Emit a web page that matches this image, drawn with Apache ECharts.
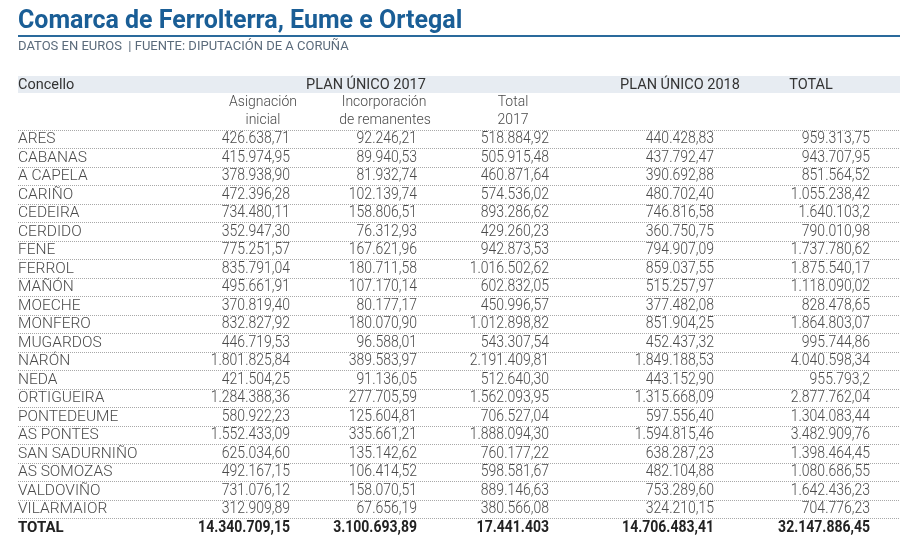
<!DOCTYPE html>
<html>
<head>
<meta charset="utf-8">
<title>Comarca de Ferrolterra, Eume e Ortegal</title>
<script src="https://cdn.jsdelivr.net/npm/echarts@6/dist/echarts.min.js"></script>
<style>
  html, body { margin: 0; padding: 0; background: #fff; }
  #plan-unico { width: 900px; height: 537px; }
</style>
</head>
<body>
<div id="plan-unico"></div>
<script>
// datos (texto tal como aparece na táboa)
var concellos = ['ARES', 'CABANAS', 'A CAPELA', 'CARIÑO', 'CEDEIRA', 'CERDIDO', 'FENE', 'FERROL',
  'MAÑÓN', 'MOECHE', 'MONFERO', 'MUGARDOS', 'NARÓN', 'NEDA', 'ORTIGUEIRA', 'PONTEDEUME',
  'AS PONTES', 'SAN SADURNIÑO', 'AS SOMOZAS', 'VALDOVIÑO', 'VILARMAIOR'];

var asignacion = ['426.638,71', '415.974,95', '378.938,90', '472.396,28', '734.480,11', '352.947,30',
  '775.251,57', '835.791,04', '495.661,91', '370.819,40', '832.827,92', '446.719,53', '1.801.825,84',
  '421.504,25', '1.284.388,36', '580.922,23', '1.552.433,09', '625.034,60', '492.167,15', '731.076,12',
  '312.909,89'];

var remanentes = ['92.246,21', '89.940,53', '81.932,74', '102.139,74', '158.806,51', '76.312,93',
  '167.621,96', '180.711,58', '107.170,14', '80.177,17', '180.070,90', '96.588,01', '389.583,97',
  '91.136,05', '277.705,59', '125.604,81', '335.661,21', '135.142,62', '106.414,52', '158.070,51',
  '67.656,19'];

var total2017 = ['518.884,92', '505.915,48', '460.871,64', '574.536,02', '893.286,62', '429.260,23',
  '942.873,53', '1.016.502,62', '602.832,05', '450.996,57', '1.012.898,82', '543.307,54', '2.191.409,81',
  '512.640,30', '1.562.093,95', '706.527,04', '1.888.094,30', '760.177,22', '598.581,67', '889.146,63',
  '380.566,08'];

var plan2018 = ['440.428,83', '437.792,47', '390.692,88', '480.702,40', '746.816,58', '360.750,75',
  '794.907,09', '859.037,55', '515.257,97', '377.482,08', '851.904,25', '452.437,32', '1.849.188,53',
  '443.152,90', '1.315.668,09', '597.556,40', '1.594.815,46', '638.287,23', '482.104,88', '753.289,60',
  '324.210,15'];

var totalGeral = ['959.313,75', '943.707,95', '851.564,52', '1.055.238,42', '1.640.103,2', '790.010,98',
  '1.737.780,62', '1.875.540,17', '1.118.090,02', '828.478,65', '1.864.803,07', '995.744,86', '4.040.598,34',
  '955.793,2', '2.877.762,04', '1.304.083,44', '3.482.909,76', '1.398.464,45', '1.080.686,55', '1.642.436,23',
  '704.776,23'];

var totais = ['14.340.709,15', '3.100.693,89', '17.441.403', '14.706.483,41', '32.147.886,45'];

// bordo dereito de cada columna (eixo x = píxeles)
var colRight = [290, 417, 549, 714, 870];

var columnas = [asignacion, remanentes, total2017, plan2018, totalGeral];
var filas = concellos.concat(['TOTAL']);

var cells = [];
var cellText = [];
for (var c = 0; c < columnas.length; c++) {
  for (var r = 0; r < filas.length; r++) {
    var isTotal = r === concellos.length;
    cells.push([colRight[c], r]);
    cellText.push({ text: isTotal ? totais[c] : columnas[c][r], bold: isTotal });
  }
}

var font = 'Roboto, "Noto Sans", sans-serif';
var grey = '#4a4a4a';

var chart = echarts.init(document.getElementById('plan-unico'));

var option = {
  backgroundColor: '#fff',
  animation: false,
  title: {
    text: 'Comarca de Ferrolterra, Eume e Ortegal',
    left: 13,
    top: 4,
    textStyle: { fontFamily: font, fontSize: 25, fontWeight: 'bold', color: '#1a5e96' }
  },
  grid: { left: 18, right: 0, top: 130, height: 408.1 },
  xAxis: {
    type: 'value', min: 18, max: 900,
    show: false
  },
  yAxis: {
    type: 'category',
    data: filas,
    inverse: true,
    axisLine: { show: false },
    axisTick: { show: false },
    axisLabel: {
      inside: true,
      margin: 0,
      interval: 0,
      fontFamily: font,
      fontSize: 15.5,
      fontWeight: 300,
      color: grey,
      formatter: function (v) { return v === 'TOTAL' ? '{b|TOTAL}' : v; },
      rich: { b: { fontFamily: font, fontSize: 15, fontWeight: 'bold', color: '#222' } }
    },
    splitLine: { show: true, interval: 0, lineStyle: { color: '#a8a8a8', type: [1, 1], width: 1 } }
  },
  series: [{
    type: 'custom',
    data: cells,
    renderItem: function (params, api) {
      var p = api.coord([api.value(0), api.value(1)]);
      var t = cellText[params.dataIndex];
      return {
        type: 'text',
        x: p[0], y: p[1],
        scaleX: 0.875,
        style: {
          text: t.text,
          align: 'right',
          verticalAlign: 'middle',
          fontFamily: font,
          fontSize: 16,
          fontWeight: t.bold ? 'bold' : 300,
          fill: t.bold ? '#222' : grey
        }
      };
    }
  }],
  graphic: [
    { type: 'rect', shape: { x: 18, y: 35, width: 882, height: 2 }, style: { fill: '#2a6a9c' } },
    { type: 'text', left: 18, top: 40, style: { text: 'DATOS EN EUROS  | FUENTE: DIPUTACIÓN DE A CORUÑA',
        fontFamily: font, fontSize: 13, fill: '#5b6b7b' } },
    { type: 'rect', z: -1, shape: { x: 18, y: 76, width: 882, height: 17 }, style: { fill: '#e7ecf2' } },
    { type: 'text', x: 18, y: 85, style: { text: 'Concello', verticalAlign: 'middle', fontFamily: font, fontSize: 14.5, fill: '#333' } },
    { type: 'text', x: 366, y: 85, style: { text: 'PLAN ÚNICO 2017', align: 'center', verticalAlign: 'middle', fontFamily: font, fontSize: 14.5, fill: '#333' } },
    { type: 'text', x: 680, y: 85, style: { text: 'PLAN ÚNICO 2018', align: 'center', verticalAlign: 'middle', fontFamily: font, fontSize: 14.5, fill: '#333' } },
    { type: 'text', x: 811, y: 85, style: { text: 'TOTAL', align: 'center', verticalAlign: 'middle', fontFamily: font, fontSize: 14.5, fill: '#333' } },
    { type: 'text', x: 263, y: 102, style: { text: 'Asignación', align: 'center', verticalAlign: 'middle', fontFamily: font, fontSize: 14, fontWeight: 300, fill: grey } },
    { type: 'text', x: 263, y: 120, style: { text: 'inicial', align: 'center', verticalAlign: 'middle', fontFamily: font, fontSize: 14, fontWeight: 300, fill: grey } },
    { type: 'text', x: 384, y: 102, style: { text: 'Incorporación', align: 'center', verticalAlign: 'middle', fontFamily: font, fontSize: 14, fontWeight: 300, fill: grey } },
    { type: 'text', x: 385, y: 120, style: { text: 'de remanentes', align: 'center', verticalAlign: 'middle', fontFamily: font, fontSize: 14, fontWeight: 300, fill: grey } },
    { type: 'text', x: 513, y: 102, style: { text: 'Total', align: 'center', verticalAlign: 'middle', fontFamily: font, fontSize: 14, fontWeight: 300, fill: grey } },
    { type: 'text', x: 513, y: 120, style: { text: '2017', align: 'center', verticalAlign: 'middle', fontFamily: font, fontSize: 14, fontWeight: 300, fill: grey } }
  ]
};

chart.setOption(option);
window.onresize = chart.resize;
</script>
</body>
</html>
